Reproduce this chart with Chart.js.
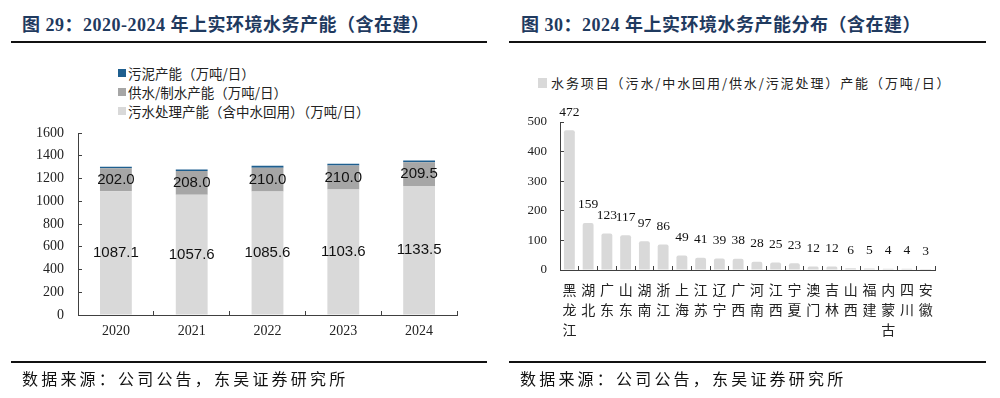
<!DOCTYPE html>
<html>
<head>
<meta charset="utf-8">
<script src="https://cdn.jsdelivr.net/npm/chart.js@4.4.1/dist/chart.umd.min.js"></script>
<style>
  body { margin: 0; width: 1000px; height: 398px; background: #fff; position: relative; overflow: hidden;
         font-family: 'Liberation Serif', 'Noto Sans CJK SC', serif; color: #222; }
  .panel { position: absolute; top: 0; width: 500px; height: 398px; }
  .panel canvas { position: absolute; left: 0; top: 0; }
  .title { position: absolute; top: 13px; font-size: 18px; font-weight: bold; color: #1f3a5f; white-space: nowrap; line-height: 24px; letter-spacing: 0.5px; }
  .rule { position: absolute; height: 2px; background: #111; }
  .source { position: absolute; top: 369px; font-size: 16px; letter-spacing: 3.2px; color: #111; white-space: nowrap; line-height: 22px; }
  .lg { position: absolute; white-space: nowrap; font-family: 'Noto Sans CJK SC', sans-serif; color: #222; }
  .lg i { position: absolute; left: 0; width: 8px; height: 8px; }
  .lg span { position: absolute; top: 0; }
</style>
</head>
<body>

<div class="panel" style="left:0">
  <div class="title" style="left:22px">图 29：2020-2024 年上实环境水务产能（含在建）</div>
  <div class="rule" style="left:11px;width:476px;top:41px"></div>
  <div class="lg" style="left:118px;top:65px;font-size:13.5px;line-height:16px">
    <i style="top:4px;background:#1f5f8f"></i><span style="left:10px">污泥产能（万吨/日）</span>
  </div>
  <div class="lg" style="left:118px;top:84px;font-size:13.5px;line-height:16px">
    <i style="top:4px;background:#a6a6a6"></i><span style="left:10px">供水/制水产能（万吨/日）</span>
  </div>
  <div class="lg" style="left:118px;top:103px;font-size:13.5px;line-height:16px">
    <i style="top:4px;background:#d9d9d9"></i><span style="left:10px">污水处理产能（含中水回用）（万吨/日）</span>
  </div>
  <canvas id="c29" width="500" height="398"></canvas>
  <div class="rule" style="left:11px;width:476px;top:361px"></div>
  <div class="source" style="left:22px">数据来源：公司公告，东吴证券研究所</div>
</div>

<div class="panel" style="left:500px">
  <div class="title" style="left:21px">图 30：2024 年上实环境水务产能分布（含在建）</div>
  <div class="rule" style="left:9px;width:477px;top:41px"></div>
  <div class="lg" style="left:38px;top:75px;font-size:13px;line-height:16px;letter-spacing:1.9px">
    <i style="top:3px;width:9px;height:10px;background:#d9d9d9"></i><span style="left:13px">水务项目（污水/中水回用/供水/污泥处理）产能（万吨/日）</span>
  </div>
  <canvas id="c30" width="500" height="398"></canvas>
  <div class="rule" style="left:9px;width:477px;top:361px"></div>
  <div class="source" style="left:20px">数据来源：公司公告，东吴证券研究所</div>
</div>

<script>
// === Data ===
const years = ['2020', '2021', '2022', '2023', '2024'];
const sewage = [1087.1, 1057.6, 1085.6, 1103.6, 1133.5];
const supply = [202.0, 208.0, 210.0, 210.0, 209.5];
const sludge = [15, 14, 16, 16, 15];

const provinces = [
  ['黑', '龙', '江'], ['湖', '北'], ['广', '东'], ['山', '东'], ['湖', '南'],
  ['浙', '江'], ['上', '海'], ['江', '苏'], ['辽', '宁'], ['广', '西'],
  ['河', '南'], ['江', '西'], ['宁', '夏'], ['澳', '门'], ['吉', '林'],
  ['山', '西'], ['福', '建'], ['内', '蒙', '古'], ['四', '川'], ['安', '徽'],
];
const capacity = [472, 159, 123, 117, 97, 86, 49, 41, 39, 38, 28, 25, 23, 12, 12, 6, 5, 4, 4, 3];

const SERIF = "'Liberation Serif', 'Noto Sans CJK SC', serif";
const AXIS = '#404040';

// value labels drawn on top of the bars
const barLabels = {
  id: 'barLabels',
  afterDatasetsDraw(chart, args, opts) {
    const ctx = chart.ctx;
    ctx.save();
    ctx.font = opts.font;
    ctx.fillStyle = opts.color;
    ctx.textAlign = 'center';
    ctx.textBaseline = 'middle';
    opts.datasets.forEach(i => {
      const ds = chart.data.datasets[i];
      chart.getDatasetMeta(i).data.forEach((bar, j) => {
        const v = ds.data[j];
        const y = opts.inside ? (bar.y + bar.base) / 2 : bar.y - opts.offset;
        ctx.fillText(v.toFixed(opts.decimals), bar.x, y);
      });
    });
    ctx.restore();
  },
};

// === Fig 29: stacked capacity by year ===
new Chart(document.getElementById('c29'), {
  type: 'bar',
  data: {
    labels: years,
    datasets: [
      { label: '污水处理产能（含中水回用）（万吨/日）', data: sewage, backgroundColor: '#d9d9d9' },
      { label: '供水/制水产能（万吨/日）', data: supply, backgroundColor: '#a6a6a6' },
      { label: '污泥产能（万吨/日）', data: sludge, backgroundColor: '#1f5f8f' },
    ],
  },
  options: {
    responsive: false,
    animation: false,
    layout: { padding: { left: 0, right: 43, top: 133, bottom: 0 } },
    datasets: { bar: { categoryPercentage: 1, barPercentage: 0.42 } },
    plugins: {
      legend: { display: false },
      tooltip: { enabled: false },
      barLabels: { datasets: [0, 1], inside: true, decimals: 1, font: "15px 'Liberation Sans', Arial, sans-serif", color: '#111' },
    },
    scales: {
      x: {
        stacked: true,
        afterFit(s) { s.height = 83; },
        grid: { drawOnChartArea: false, tickLength: -4, color: AXIS },
        border: { color: AXIS },
        ticks: { font: { family: SERIF, size: 14 }, color: '#222', padding: 12 },
      },
      y: {
        stacked: true,
        min: 0,
        max: 1600,
        afterFit(s) { s.width = 78; },
        grid: { drawOnChartArea: false, tickLength: -4, color: AXIS },
        border: { color: AXIS },
        ticks: { stepSize: 200, callback: v => String(v), font: { family: SERIF, size: 14 }, color: '#222', padding: 18 },
      },
    },
  },
  plugins: [barLabels],
});

// === Fig 30: capacity by province ===
new Chart(document.getElementById('c30'), {
  type: 'bar',
  data: {
    labels: provinces,
    datasets: [{
      label: '水务项目（污水/中水回用/供水/污泥处理）产能（万吨/日）',
      data: capacity,
      backgroundColor: '#d9d9d9',
      borderRadius: { topLeft: 2, topRight: 2 },
    }],
  },
  options: {
    responsive: false,
    animation: false,
    layout: { padding: { left: 0, right: 65, top: 122, bottom: 0 } },
    datasets: { bar: { categoryPercentage: 1, barPercentage: 0.58 } },
    plugins: {
      legend: { display: false },
      tooltip: { enabled: false },
      barLabels: { datasets: [0], inside: false, offset: 18, decimals: 0, font: "13.5px 'Liberation Serif', serif", color: '#111' },
    },
    scales: {
      x: {
        afterFit(s) { s.height = 128; },
        grid: { drawOnChartArea: false, tickLength: -4, color: AXIS },
        border: { color: AXIS },
        ticks: {
          autoSkip: false, maxRotation: 0, minRotation: 0,
          font: { family: "'Noto Sans CJK SC', sans-serif", size: 14, lineHeight: '20px' },
          color: '#222', padding: 14,
        },
      },
      y: {
        min: 0,
        max: 500,
        afterFit(s) { s.width = 60; },
        grid: { drawOnChartArea: false, tickLength: -4, color: AXIS },
        border: { color: AXIS },
        ticks: { stepSize: 100, font: { family: SERIF, size: 13 }, color: '#222', padding: 17 },
      },
    },
  },
  plugins: [barLabels],
});
</script>
</body>
</html>
